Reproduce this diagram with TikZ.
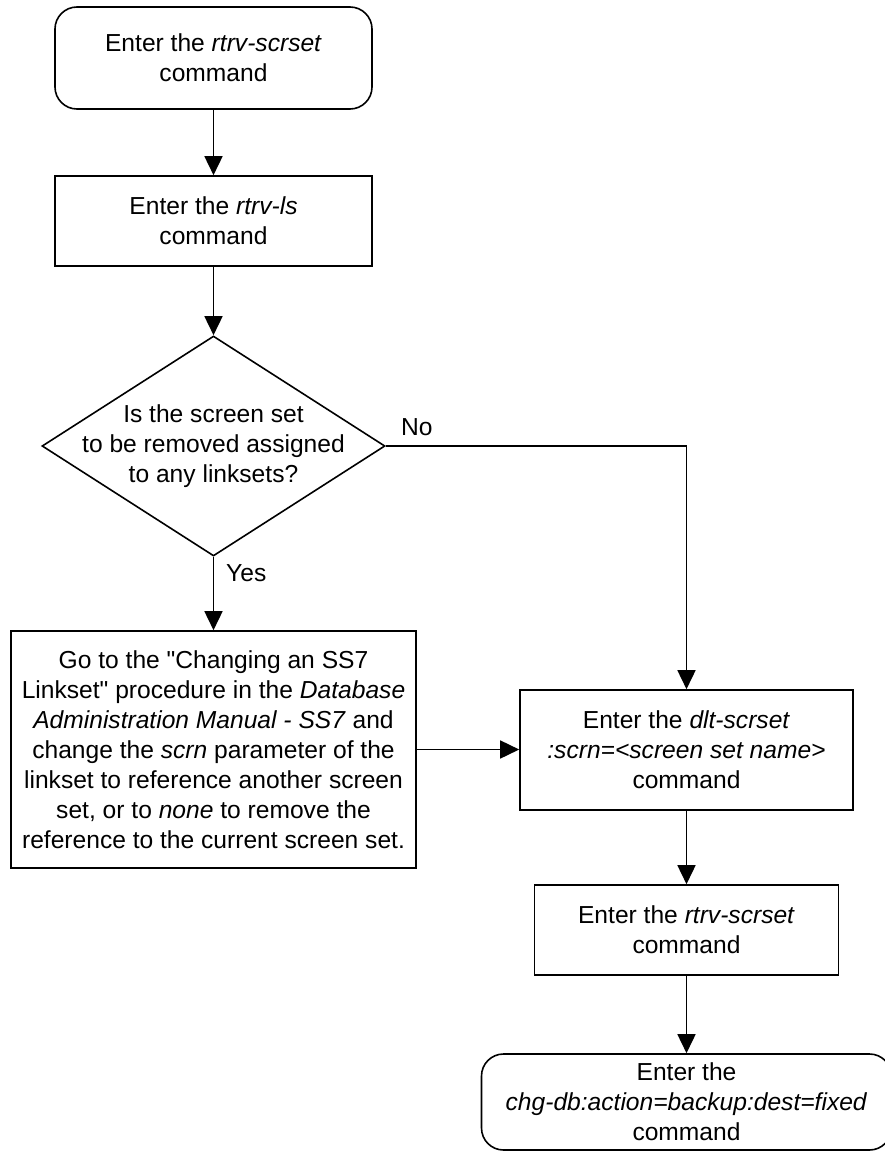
\documentclass[tikz,border=0pt]{standalone}
\usepackage{fontspec}
\setmainfont{Liberation Sans}[Ligatures=TeXOff]
\usetikzlibrary{shapes.geometric,arrows.meta}
\begin{document}
\begin{tikzpicture}[x=1pt,y=-1pt,
  every node/.style={font=\fontsize{24.6}{30}\selectfont},
  box/.style={draw,line width=1.6pt,align=center,inner sep=0pt},
  rbox/.style={box,rounded corners=22pt},
  conn/.style={line width=1.6pt,-{Triangle[length=19pt,width=18pt]}},
  lbl/.style={inner sep=0pt,anchor=west}]
\useasboundingbox (0,0) rectangle (885,1151);
\node[rbox,minimum width=317pt,minimum height=102pt] (start) at (213.5,58) {Enter the \textit{rtrv-scrset}\\command};
\node[box,minimum width=317pt,minimum height=90pt] (ls) at (213.5,221) {Enter the \textit{rtrv-ls}\\command};
\node[draw,line width=1.6pt,shape=diamond,inner sep=0pt,minimum width=343pt,minimum height=220pt,
  label={[align=center]center:Is the screen set\\to be removed assigned\\to any linksets?}] (dec) at (213.5,446) {};
\node[box,minimum width=405pt,minimum height=237pt] (go) at (213.5,749.5) {Go to the "Changing an SS7\\Linkset" procedure in the \textit{Database}\\\textit{Administration Manual - SS7} and\\change the \textit{scrn} parameter of the\\linkset to reference another screen\\set, or to \textit{none} to remove the\\reference to the current screen set.};
\node[box,minimum width=333pt,minimum height=120pt] (dlt) at (686.5,750) {Enter the \textit{dlt-scrset}\\\textit{:scrn=<screen set name>}\\command};
\node[box,minimum width=304pt,minimum height=90pt] (rtrv) at (686.5,930) {Enter the \textit{rtrv-scrset}\\command};
\node[rbox,minimum width=410pt,minimum height=96pt] (fin) at (686.5,1102) {Enter the\\\textit{chg-db:action=backup:dest=fixed}\\command};
\node[lbl] (no) at (401,427) {No};
\node[lbl] (yes) at (226,573) {Yes};
\draw[conn] (start) -- (ls);
\draw[conn] (ls) -- (dec);
\draw[conn] (dec.south) -- (go.north);
\draw[conn] (dec.east) -| (dlt.north);
\draw[conn] (go.east) -- (go.east -| dlt.west);
\draw[conn] (dlt) -- (rtrv);
\draw[conn] (rtrv) -- (fin);
\end{tikzpicture}
\end{document}
